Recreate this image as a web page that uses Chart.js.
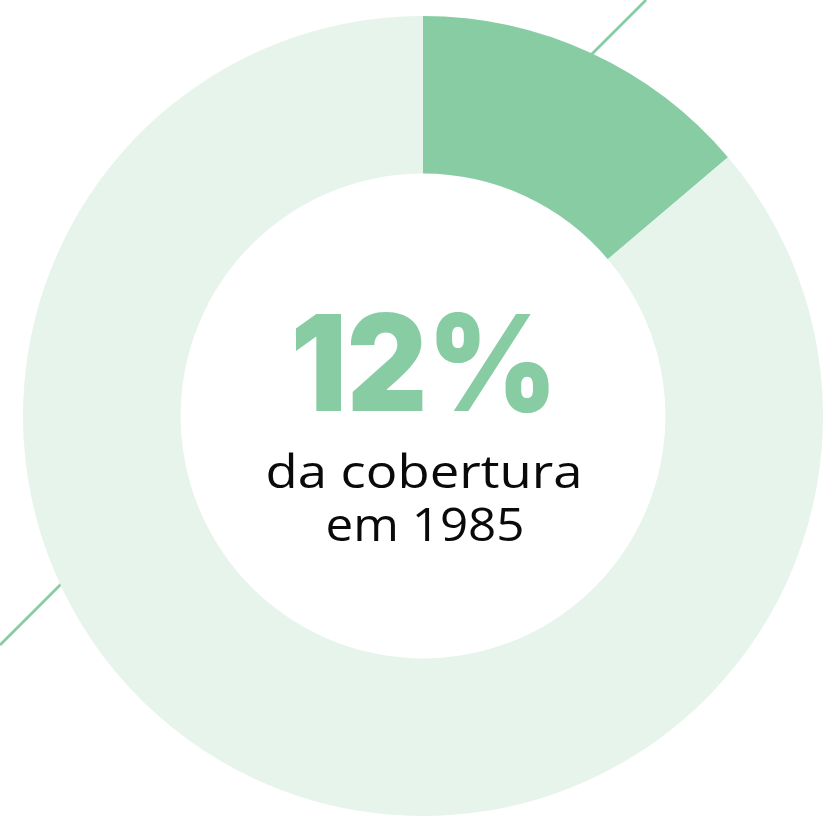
<!DOCTYPE html>
<html>
<head>
<meta charset="utf-8">
<script src="https://cdn.jsdelivr.net/npm/chart.js"></script>
<style>
  html, body { margin: 0; padding: 0; background: #fff; }
  #wrap { width: 836px; height: 820px; }
</style>
</head>
<body>
<div id="wrap"><canvas id="chart"></canvas></div>
<script>
const labels = ["Cobertura 1985", "Restante"];
const values = [13.8, 86.2];
const colors = ["#88cca4", "#e6f4ec"];
const bigLabel = "12%";
const subLabel = ["da cobertura", "em 1985"];

// stretch a text horizontally to a given width, centered on x
function fitText(ctx, txt, x, y, width) {
    var w = ctx.measureText(txt).width;
    ctx.save();
    ctx.translate(x, y);
    ctx.scale(width / w, 1);
    ctx.fillText(txt, 0, 0);
    ctx.restore();
}

// diagonal line behind the ring + white hole + center texts
const decor = {
    id: "decor",
    beforeDatasetsDraw: function (chart) {
        var ctx = chart.ctx;
        var arc = chart.getDatasetMeta(0).data[0];
        ctx.save();
        ctx.strokeStyle = "#88cca4";
        ctx.lineWidth = 2.8;
        ctx.beginPath();
        ctx.moveTo(646, 0);
        ctx.lineTo(0, 645);
        ctx.stroke();
        ctx.fillStyle = "#fff";
        ctx.beginPath();
        ctx.arc(arc.x, arc.y, arc.innerRadius + 1, 0, Math.PI * 2);
        ctx.fill();
        ctx.restore();
    },
    afterDraw: function (chart) {
        var ctx = chart.ctx;
        var cx = chart.getDatasetMeta(0).data[0].x;
        ctx.save();
        ctx.textAlign = "center";
        ctx.textBaseline = "alphabetic";
        ctx.fillStyle = "#88cca4";
        ctx.font = "900 134px Inter";
        fitText(ctx, bigLabel, cx + 1, 411, 267);

        ctx.fillStyle = "#0a0a0a";
        ctx.font = "400 46px 'Open Sans'";
        fitText(ctx, subLabel[0], cx + 1, 488, 317);
        fitText(ctx, subLabel[1], cx + 2, 541, 199);
        ctx.restore();
    }
};

new Chart(document.getElementById("chart"), {
    type: "doughnut",
    data: {
        labels: labels,
        datasets: [{
            data: values,
            backgroundColor: colors,
            borderWidth: 0,
            hoverOffset: 0
        }]
    },
    options: {
        responsive: true,
        maintainAspectRatio: false,
        animation: false,
        cutout: "60.6%",
        layout: { padding: { left: 23, right: 13, top: 16, bottom: 4 } },
        plugins: {
            legend: { display: false },
            tooltip: { enabled: false }
        }
    },
    plugins: [decor]
});
</script>
</body>
</html>
